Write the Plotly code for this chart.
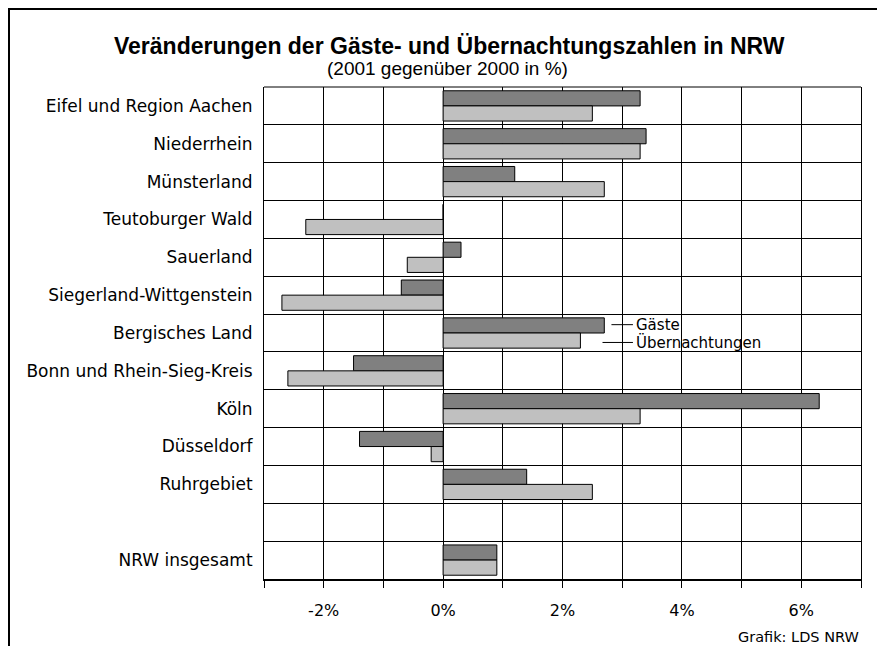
import plotly.graph_objects as go

regions = ["Eifel und Region Aachen", "Niederrhein", "Münsterland", "Teutoburger Wald",
           "Sauerland", "Siegerland-Wittgenstein", "Bergisches Land",
           "Bonn und Rhein-Sieg-Kreis", "Köln", "Düsseldorf", "Ruhrgebiet", " ",
           "NRW insgesamt"]
gaeste = [3.3, 3.4, 1.2, 0.0, 0.3, -0.7, 2.7, -1.5, 6.3, -1.4, 1.4, None, 0.9]
uebernachtungen = [2.5, 3.3, 2.7, -2.3, -0.6, -2.7, 2.3, -2.6, 3.3, -0.2, 2.5, None, 0.9]

x_tickvals = [-3, -2, -1, 0, 1, 2, 3, 4, 5, 6, 7]
x_ticktext = ["", "-2%", "", "0%", "", "2%", "", "4%", "", "6%", ""]

# page is offset by the 8px default body margin
OFF = 8
W, H = 885 - OFF, 646 - OFF
PL, PR, PT, PB = 264, 861, 87, 579.3   # plot area in page pixels
ML, MR, MT, MB = PL - OFF, W - (PR - OFF), PT - OFF, H - (PB - OFF)
PW, PH = W - ML - MR, H - MT - MB
FONT = "DejaVu Sans"
TFONT = "Liberation Sans"

def px_x(p):
    return (p - OFF - ML) / PW

def px_y(p):
    return (H - MB - (p - OFF)) / PH

fig = go.Figure()
fig.add_trace(go.Bar(y=regions, x=gaeste, orientation="h", name="Gäste",
                     marker=dict(color="#808080", line=dict(color="black", width=1))))
fig.add_trace(go.Bar(y=regions, x=uebernachtungen, orientation="h", name="Übernachtungen",
                     marker=dict(color="#c0c0c0", line=dict(color="black", width=1))))

shapes = [
    # frame
    dict(type="line", xref="paper", yref="paper", x0=px_x(8), x1=px_x(900), y0=px_y(9), y1=px_y(9),
         line=dict(color="black", width=2)),
    dict(type="line", xref="paper", yref="paper", x0=px_x(9), x1=px_x(9), y0=px_y(8), y1=px_y(700),
         line=dict(color="black", width=2)),
    # top border of plot
    dict(type="line", xref="paper", yref="paper", x0=0, x1=1, y0=1, y1=1,
         line=dict(color="black", width=1)),
    # legend leader lines
    dict(type="line", xref="x", yref="y", x0=2.82, x1=3.18, y0=6 - 0.22, y1=6 - 0.22,
         line=dict(color="black", width=1)),
    dict(type="line", xref="x", yref="y", x0=2.67, x1=3.18, y0=6 + 0.25, y1=6 + 0.25,
         line=dict(color="black", width=1)),
]

annotations = [
    dict(text="<b>Veränderungen der Gäste- und Übernachtungszahlen in NRW</b>", xref="paper", yref="paper",
         x=px_x(449.5), y=px_y(46), showarrow=False, xanchor="center", yanchor="middle",
         font=dict(size=23, family=TFONT, color="black")),
    dict(text="(2001 gegenüber 2000 in %)", xref="paper", yref="paper",
         x=px_x(447), y=px_y(68), showarrow=False, xanchor="center", yanchor="middle",
         font=dict(size=19, family=TFONT, color="black")),
    dict(text="Grafik: LDS NRW", xref="paper", yref="paper",
         x=px_x(861), y=px_y(637), showarrow=False, xanchor="right", yanchor="middle",
         font=dict(size=14.5, family=FONT, color="black")),
    dict(text="Gäste", xref="x", yref="y", x=3.19, y=6 - 0.22, showarrow=False,
         xanchor="left", yanchor="middle", font=dict(size=15, family=FONT, color="black")),
    dict(text="Übernachtungen", xref="x", yref="y", x=3.19, y=6 + 0.25, showarrow=False,
         xanchor="left", yanchor="middle", font=dict(size=15, family=FONT, color="black")),
]

fig.update_layout(
    width=W, height=H,
    margin=dict(l=ML, r=MR, t=MT, b=MB, pad=0),
    paper_bgcolor="white", plot_bgcolor="white",
    barmode="group", bargap=0.2, bargroupgap=0,
    showlegend=False,
    font=dict(family=FONT, color="black", size=17),
    shapes=shapes, annotations=annotations,
)
fig.update_xaxes(range=[-3, 7], tickvals=x_tickvals, ticktext=x_ticktext,
                 showgrid=True, gridcolor="black", gridwidth=1,
                 zeroline=True, zerolinecolor="black", zerolinewidth=1,
                 showline=True, linecolor="black", linewidth=2,
                 ticks="outside", ticklen=7, tickcolor="black", tickwidth=1,
                 ticklabelstandoff=9, tickfont=dict(size=16, family=FONT))
fig.update_yaxes(type="category", categoryorder="array", categoryarray=regions,
                 autorange="reversed", tickson="boundaries",
                 showgrid=True, gridcolor="black", gridwidth=1,
                 showline=True, linecolor="black", linewidth=1, mirror=True,
                 ticks="", ticklabelstandoff=7, tickfont=dict(size=17, family=FONT))

fig.write_html("out.html")
